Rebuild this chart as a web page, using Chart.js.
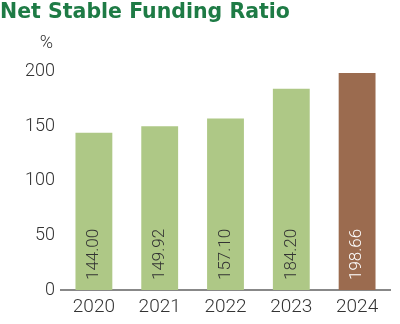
<!DOCTYPE html>
<html>
<head>
<meta charset="utf-8">
<script src="https://cdn.jsdelivr.net/npm/chart.js@4/dist/chart.umd.min.js"></script>
<style>
  html, body { margin: 0; padding: 0; background: #fff; }
  #wrap { width: 400px; height: 324px; }
</style>
</head>
<body>
<div id="wrap"><canvas id="myChart"></canvas></div>
<script>
var years = ["2020", "2021", "2022", "2023", "2024"];
var nsfr = [144.00, 149.92, 157.10, 184.20, 198.66];
var yTicks = [0, 50, 100, 150, 200];
var barColors = ["#aec886", "#aec886", "#aec886", "#aec886", "#9b6b4f"];
var labelColors = ["#333333", "#333333", "#333333", "#333333", "#ffffff"];

// vertical value labels inside the bars + the "%" unit over the y axis
var barLabels = {
  id: 'barLabels',
  afterDatasetsDraw: function(chart) {
    var ctx = chart.ctx;
    var meta = chart.getDatasetMeta(0);
    var base = chart.scales.y.getPixelForValue(0);
    ctx.save();
    ctx.font = '300 17px Roboto';
    ctx.textAlign = 'left';
    ctx.textBaseline = 'middle';
    meta.data.forEach(function(bar, i) {
      ctx.save();
      ctx.translate(bar.x, base - 10);
      ctx.rotate(-Math.PI / 2);
      ctx.fillStyle = labelColors[i];
      ctx.fillText(nsfr[i].toFixed(2), 0, 0);
      ctx.restore();
    });
    ctx.fillStyle = '#333333';
    ctx.font = '300 18px Roboto';
    ctx.textAlign = 'right';
    ctx.fillText('%', chart.chartArea.left - 8, 43);
    ctx.restore();
  }
};

var ctx = document.getElementById("myChart");
var myChart = new Chart(ctx, {
  type: 'bar',
  data: {
    labels: years,
    datasets: [{
      label: "Net Stable Funding Ratio",
      data: nsfr,
      backgroundColor: barColors,
      barPercentage: 0.56,
      categoryPercentage: 1.0
    }]
  },
  options: {
    responsive: true,
    maintainAspectRatio: false,
    animation: false,
    layout: { padding: { left: 0, right: 10, top: 0, bottom: 0 } },
    plugins: {
      legend: { display: false },
      tooltip: { enabled: false },
      title: {
        display: true,
        text: 'Net Stable Funding Ratio',
        align: 'start',
        color: '#1e7b45',
        font: { family: 'DejaVu Sans', size: 20.5, weight: 'bold' },
        padding: { top: 0, bottom: 47 }
      }
    },
    scales: {
      x: {
        afterFit: function(axis) { axis.height = 34; },
        grid: { display: false, drawTicks: false },
        border: { display: true, color: '#888888', width: 2 },
        ticks: { color: '#333333', font: { family: 'Roboto', size: 19, weight: 300 }, padding: 6 }
      },
      y: {
        min: 0,
        max: 200,
        afterBuildTicks: function(axis) {
          axis.ticks = yTicks.map(function(v) { return { value: v }; });
        },
        afterFit: function(axis) { axis.width = 61; },
        grid: { display: false, drawTicks: false },
        border: { display: false },
        ticks: { color: '#333333', font: { family: 'Roboto', size: 18, weight: 300 }, padding: 6 }
      }
    }
  },
  plugins: [barLabels]
});
</script>
</body>
</html>
